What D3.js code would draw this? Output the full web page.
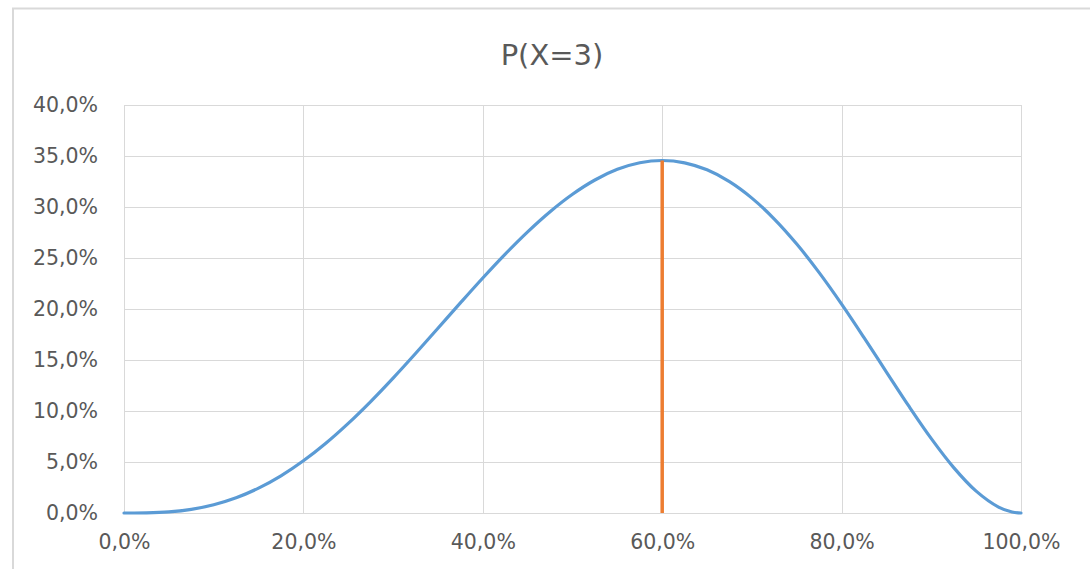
<!DOCTYPE html>
<html>
<head>
<meta charset="utf-8">
<script src="https://cdn.jsdelivr.net/npm/d3@7"></script>
<style>
  html, body { margin: 0; padding: 0; background: #ffffff; }
  svg { display: block; }
  text { font-family: "DejaVu Sans", "Noto Sans", sans-serif; fill: #595959; }
</style>
</head>
<body>
<svg id="chart" width="1090" height="569"></svg>
<script>
// Probability p (x) and P(X=3) (y), sampled every 2.5 % plus a point near p = 1
const pValues = [0, 0.025, 0.05, 0.075, 0.10, 0.125, 0.15, 0.175, 0.20, 0.225, 0.25,
                 0.275, 0.30, 0.325, 0.35, 0.375, 0.40, 0.425, 0.45, 0.475, 0.50,
                 0.525, 0.55, 0.575, 0.60, 0.625, 0.65, 0.675, 0.70, 0.725, 0.75,
                 0.775, 0.80, 0.825, 0.85, 0.875, 0.90, 0.925, 0.95, 0.975, 0.99, 1.00];
const probValues = [0, 0.00015, 0.00113, 0.00361, 0.0081, 0.01495, 0.02438, 0.03648, 0.0512, 0.06841, 0.08789,
                    0.10931, 0.1323, 0.15641, 0.18115, 0.20599, 0.2304, 0.25381, 0.27565, 0.29539, 0.3125,
                    0.32649, 0.33691, 0.34339, 0.3456, 0.34332, 0.33642, 0.32485, 0.3087, 0.28819, 0.26367,
                    0.23565, 0.2048, 0.17196, 0.13818, 0.10468, 0.0729, 0.04452, 0.02143, 0.00579, 0.00097, 0];
// Marker at the maximum
const markerP = [0.6, 0.6];
const markerProb = [0, 0.3456];

const xTicks = [0, 0.2, 0.4, 0.6, 0.8, 1.0];
const yTicks = [0, 0.05, 0.10, 0.15, 0.20, 0.25, 0.30, 0.35, 0.40];
const title = "P(X=3)";

const svg = d3.select("#chart");
const plot = { left: 124, right: 1021, top: 105, bottom: 513 };

const x = d3.scaleLinear().domain([0, 1]).range([plot.left, plot.right]);
const y = d3.scaleLinear().domain([0, 0.4]).range([plot.bottom, plot.top]);
const fmt = v => (v * 100).toFixed(1).replace(".", ",") + "%";

// chart area frame
svg.append("rect")
  .attr("x", 13).attr("y", 8.5)
  .attr("width", 1100).attr("height", 600)
  .attr("fill", "#ffffff")
  .attr("stroke", "#d9d9d9").attr("stroke-width", 2);

// gridlines
svg.append("g").selectAll("line").data(yTicks).join("line")
  .attr("x1", plot.left).attr("x2", plot.right)
  .attr("y1", d => Math.round(y(d)) + 0.5).attr("y2", d => Math.round(y(d)) + 0.5)
  .attr("stroke", "#d9d9d9").attr("stroke-width", 1);
svg.append("g").selectAll("line").data(xTicks).join("line")
  .attr("y1", plot.top).attr("y2", plot.bottom)
  .attr("x1", d => Math.round(x(d)) + 0.5).attr("x2", d => Math.round(x(d)) + 0.5)
  .attr("stroke", "#d9d9d9").attr("stroke-width", 1);

// axes (labels only)
const yAxis = d3.axisLeft(y).tickValues(yTicks).tickFormat(fmt).tickSize(0).tickPadding(26);
const gy = svg.append("g").attr("transform", `translate(${plot.left},0)`).call(yAxis);
gy.select(".domain").remove();
gy.selectAll("text").style("font-size", "20.5px").style("font-family", "'DejaVu Sans', sans-serif").attr("fill", "#595959");

const xAxis = d3.axisBottom(x).tickValues(xTicks).tickFormat(fmt).tickSize(0).tickPadding(21);
const gx = svg.append("g").attr("transform", `translate(0,${plot.bottom})`).call(xAxis);
gx.select(".domain").remove();
gx.selectAll("text").style("font-size", "20.5px").style("font-family", "'DejaVu Sans', sans-serif").attr("fill", "#595959");

// curve
const line = d3.line().x((d, i) => x(pValues[i])).y(d => y(d)).curve(d3.curveCatmullRom.alpha(0.5));
svg.append("path")
  .datum(probValues)
  .attr("d", line)
  .attr("fill", "none")
  .attr("stroke", "#5b9bd5")
  .attr("stroke-width", 3.2)
  .attr("stroke-linecap", "round");

// marker line at the maximum
const mline = d3.line().x((d, i) => x(markerP[i])).y(d => y(d));
svg.append("path")
  .datum(markerProb)
  .attr("d", mline)
  .attr("fill", "none")
  .attr("stroke", "#ed7d31")
  .attr("stroke-width", 3.5);

// title
svg.append("text")
  .attr("x", 552).attr("y", 55)
  .attr("text-anchor", "middle")
  .attr("dominant-baseline", "central")
  .style("font-size", "29px")
  .text(title);
</script>
</body>
</html>
